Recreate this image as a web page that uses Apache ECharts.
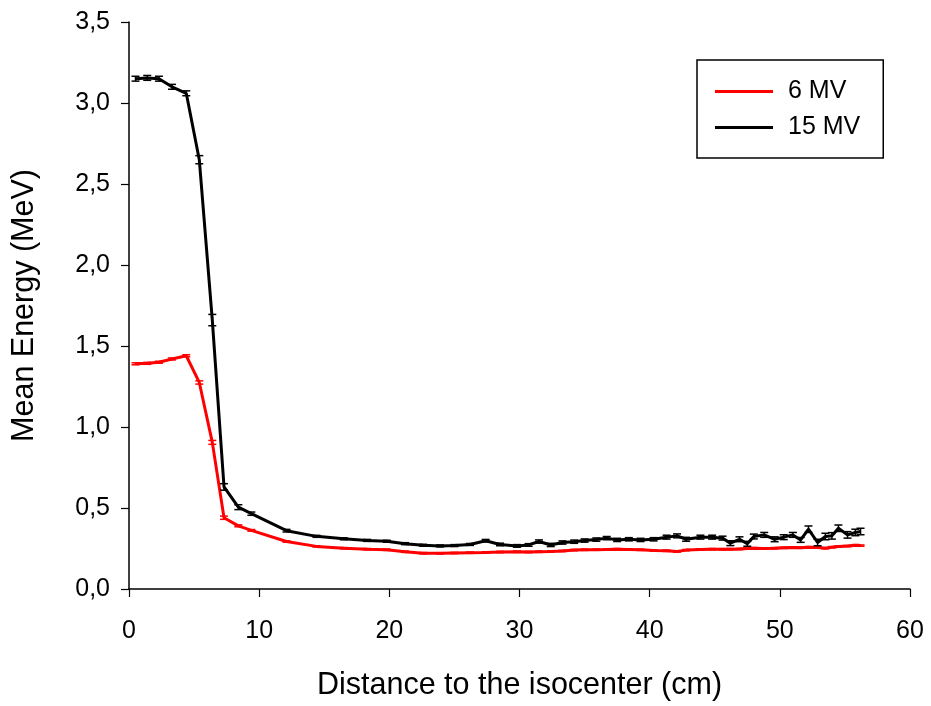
<!DOCTYPE html>
<html><head><meta charset="utf-8">
<script src="https://cdn.jsdelivr.net/npm/echarts@6/dist/echarts.min.js"></script>
<style>html,body{margin:0;padding:0;background:#fff}#c{width:931px;height:706px}</style>
</head><body><div id="c"></div>
<script>
// Distances (cm)
const distances = [0.5,1.4,2.3,3.3,4.4,5.4,6.4,7.3,8.4,9.4,12.1,14.4,16.5,18.3,19.8,21.2,22.6,23.9,25.0,26.2,27.4,28.5,29.8,30.7,31.5,32.4,33.3,34.2,35.0,35.9,36.7,37.5,38.4,39.3,40.3,41.3,42.1,42.8,43.9,44.8,45.6,46.2,46.9,47.5,48.0,48.8,49.6,50.3,51.0,51.6,52.2,52.9,53.5,54.0,54.5,55.2,55.8,56.2];
// 6 MV mean energy (MeV)
const mv6 = [1.39,1.393,1.40,1.42,1.44,1.275,0.905,0.44,0.39,0.362,0.293,0.263,0.252,0.246,0.242,0.23,0.221,0.22,0.222,0.224,0.226,0.228,0.23,0.228,0.23,0.232,0.235,0.24,0.242,0.243,0.244,0.246,0.244,0.242,0.238,0.236,0.232,0.24,0.244,0.246,0.245,0.246,0.247,0.25,0.252,0.25,0.252,0.254,0.256,0.255,0.258,0.256,0.252,0.258,0.262,0.265,0.27,0.268];
const err6 = [0.006,0.006,0.006,0.006,0.006,0.01,0.012,0.01,0.006,0.005,0.004,0.004,0.004,0.004,0.004,0.004,0.004,0.004,0.004,0.004,0.004,0.004,0.004,0.004,0.004,0.004,0.004,0.004,0.004,0.004,0.004,0.004,0.004,0.004,0.004,0.004,0.004,0.004,0.004,0.004,0.004,0.004,0.004,0.004,0.004,0.004,0.004,0.004,0.004,0.004,0.004,0.004,0.004,0.004,0.004,0.004,0.004,0.004];
// 15 MV mean energy (MeV)
const mv15 = [3.15,3.155,3.15,3.10,3.06,2.65,1.66,0.63,0.505,0.465,0.36,0.325,0.31,0.30,0.295,0.28,0.27,0.266,0.268,0.275,0.298,0.275,0.266,0.272,0.293,0.272,0.287,0.292,0.299,0.305,0.314,0.303,0.307,0.303,0.307,0.32,0.328,0.307,0.32,0.32,0.314,0.283,0.307,0.279,0.324,0.334,0.307,0.32,0.334,0.303,0.369,0.287,0.324,0.328,0.375,0.334,0.349,0.355];
const err15 = [0.015,0.015,0.015,0.015,0.015,0.025,0.035,0.02,0.015,0.01,0.008,0.006,0.006,0.006,0.006,0.006,0.006,0.006,0.006,0.006,0.008,0.008,0.008,0.008,0.01,0.01,0.01,0.01,0.01,0.01,0.01,0.01,0.01,0.01,0.01,0.012,0.012,0.012,0.012,0.012,0.012,0.015,0.015,0.015,0.015,0.015,0.015,0.015,0.015,0.015,0.02,0.02,0.02,0.02,0.02,0.02,0.02,0.02];
const xTicks = [0,10,20,30,40,50,60];
const yTicks = [0,0.5,1,1.5,2,2.5,3,3.5];

const font = 'Liberation Sans, Arial, sans-serif';
function errBar(color){
  return function(params, api){
    const x = api.value(0), lo = api.value(1), hi = api.value(2);
    const a = api.coord([x, lo]), b = api.coord([x, hi]);
    const w = 4;
    return {type:'group', children:[
      {type:'line', shape:{x1:a[0],y1:a[1],x2:b[0],y2:b[1]}, style:{stroke:color,lineWidth:1.5}},
      {type:'line', shape:{x1:a[0]-w,y1:a[1],x2:a[0]+w,y2:a[1]}, style:{stroke:color,lineWidth:1.5}},
      {type:'line', shape:{x1:b[0]-w,y1:b[1],x2:b[0]+w,y2:b[1]}, style:{stroke:color,lineWidth:1.5}}
    ]};
  };
}
const lineIcon = 'path://M0,0H58V3H0Z';
const chart = echarts.init(document.getElementById('c'), null, {renderer:'canvas'});
chart.setOption({
  animation:false,
  backgroundColor:'#fff',
  grid:{left:129, right:21, top:22, bottom:115, containLabel:false},
  xAxis:{type:'value', min:xTicks[0], max:xTicks[xTicks.length-1], interval:10,
    name:'Distance to the isocenter (cm)', nameLocation:'middle', nameGap:81,
    nameTextStyle:{fontFamily:font, fontSize:30.5, color:'#000'},
    axisLine:{show:true, onZero:false, lineStyle:{color:'#000', width:1.5}},
    axisTick:{show:true, inside:false, length:8, lineStyle:{color:'#000', width:1.2}},
    axisLabel:{margin:30, fontFamily:font, fontSize:25, color:'#000'},
    splitLine:{show:false}},
  yAxis:{type:'value', min:yTicks[0], max:yTicks[yTicks.length-1], interval:0.5,
    name:'Mean Energy (MeV)', nameLocation:'middle', nameGap:89,
    nameTextStyle:{fontFamily:font, fontSize:30.5, color:'#000'},
    axisLine:{show:true, onZero:false, lineStyle:{color:'#000', width:1.5}},
    axisTick:{show:true, inside:false, length:8, lineStyle:{color:'#000', width:1.2}},
    axisLabel:{margin:19, fontFamily:font, fontSize:25, color:'#000',
      formatter:v=>v.toFixed(1).replace('.', ',')},
    splitLine:{show:false}},
  legend:{data:[{name:'6 MV', icon:lineIcon},{name:'15 MV', icon:lineIcon}], orient:'vertical', left:697, top:60,
    itemWidth:58, itemHeight:3, itemGap:11, padding:[19,23,18,18],
    borderColor:'#000', borderWidth:1.5, borderRadius:0,
    textStyle:{fontFamily:font, fontSize:25, color:'#000', lineHeight:22, padding:[0,0,0,10]}},
  series:[
    {name:'6 MV', type:'line', data:distances.map((x,i)=>[x,mv6[i]]), symbol:'none',
      lineStyle:{color:'#ff0000', width:3}, itemStyle:{color:'#ff0000'}, z:3},
    {name:'15 MV', type:'line', data:distances.map((x,i)=>[x,mv15[i]]), symbol:'none',
      lineStyle:{color:'#000', width:3}, itemStyle:{color:'#000'}, z:4},
    {name:'err6', type:'custom', renderItem:errBar('#ff0000'), data:distances.map((x,i)=>[x,mv6[i]-err6[i],mv6[i]+err6[i]]), z:5},
    {name:'err15', type:'custom', renderItem:errBar('#000'), data:distances.map((x,i)=>[x,mv15[i]-err15[i],mv15[i]+err15[i]]), z:6}
  ]
});
</script></body></html>
